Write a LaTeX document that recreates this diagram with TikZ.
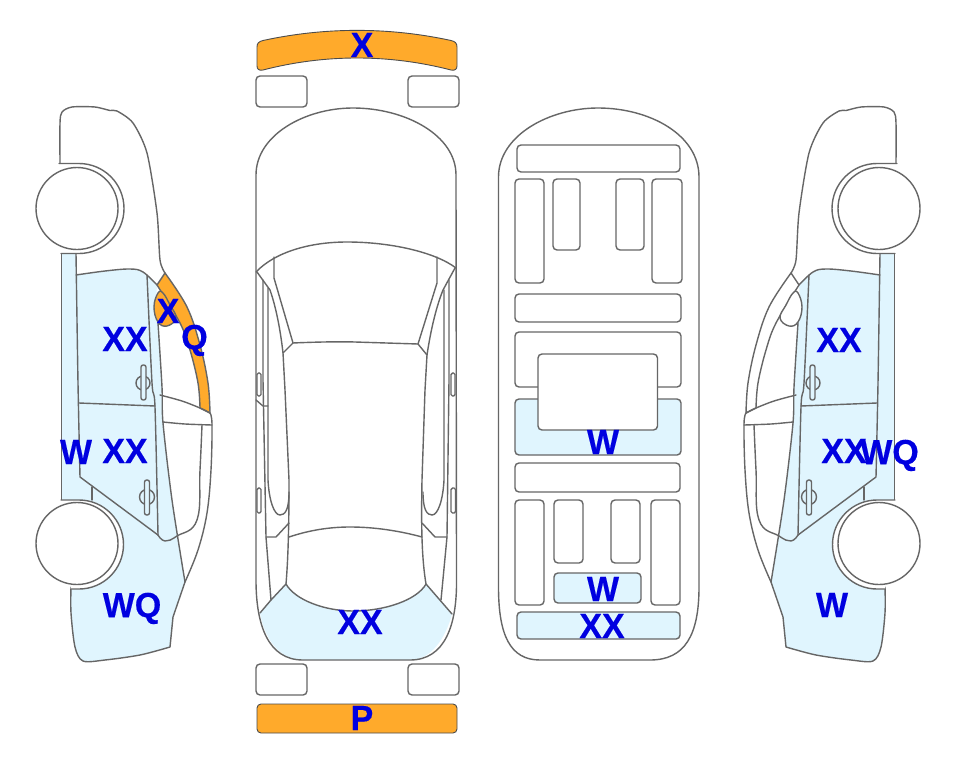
\documentclass[tikz,border=0pt]{standalone}
\usepackage{fontspec}
\setmainfont{Liberation Sans}[FakeStretch=0.97,BoldFeatures={FakeBold=0.4}]
\definecolor{skyf}{HTML}{E0F5FE}
\definecolor{orangef}{HTML}{FFAA2B}
\definecolor{inkl}{HTML}{666666}
\definecolor{labelb}{HTML}{0000E0}
\tikzset{
  ln/.style={draw=inkl,line width=1.4pt,line join=round,line cap=round},
  bx/.style={ln,rounded corners=4pt},
  mark label/.style={text=labelb,font=\fontsize{35}{35}\selectfont\bfseries,inner sep=0pt,text depth=0pt},
}
\newcommand{\sidecar}[2]{%
  % blue panels
  \fill[skyf] (62,253) -- (76,253) -- (76,275)
    -- plot[smooth,tension=.6] coordinates {(76,275) (105,271) (130,269) (143,272) (157,285)}
    -- (156,300) -- plot[smooth,tension=.6] coordinates {(158,323) (162,387) (163,423) (172,500) (185,582)}
    -- (173,617) -- (170,647) -- plot[smooth,tension=.5] coordinates {(170,647) (140,655) (105,660) (83,661) (75,647) (71,613) (71,587)} -- (62,500) -- cycle;
  % roof outline and windscreen base
  \draw[ln] plot[smooth,tension=.45] coordinates {(60,163) (60,123) (62,112) (72,107) (95,107) (110,110.5) (117,111) (133,123) (147,153) (157,213) (160,260) (165,273)};
  % pillar band
  \path[ln,fill=#1] plot[smooth,tension=.6] coordinates {(165,273) (187,307) (200,345) (208,383) (210,413)}
    -- plot[smooth,tension=.6] coordinates {(200,408) (198,383) (190,350) (180,323) (157,285)} -- cycle;
  % mirror
  \path[ln,fill=#2] plot[smooth cycle,tension=.7] coordinates {(158,293) (163,293) (170,305) (176,318) (167,326) (158,322) (154,307)};
  % outer bodywork
  \draw[ln] plot[smooth,tension=.6] coordinates {(210,413) (212,424) (211,470) (207,513) (198,550) (185,582)}
     -- (173,617) -- (170,647) -- plot[smooth,tension=.5] coordinates {(170,647) (140,655) (105,660) (83,661) (75,647) (71,613) (71,587)};
  % panel edges
  \draw[ln] (61.5,253) -- (61.5,501);
  \draw[ln] plot[smooth,tension=.5] coordinates {(76,253) (78,383) (80,477)} -- (158,535);
  \draw[ln] plot[smooth,tension=.6] coordinates {(76,275) (105,271) (130,269) (143,272) (157,285)};
  \draw[ln] plot[smooth,tension=.5] coordinates {(147,275) (152,383) (155,407) (158,535)};
  \draw[ln] plot[smooth,tension=.5] coordinates {(158,323) (162,387) (163,423) (172,500) (185,582)};
  \draw[ln] (79,403) -- (155,406);
  \draw[ln] (92,487) -- (92,500);
  % window lines
  \draw[ln] plot[smooth,tension=.5] coordinates {(160,395) (182,401) (200,408) (210,413)};
  \draw[ln] plot[smooth,tension=.5] coordinates {(163,422) (185,424) (212,425)};
  \draw[ln] plot[smooth,tension=.7] coordinates {(158,535) (165,541) (177,536) (197,520) (200,470) (202,425)};
  % door handles
  \draw[ln] (143,383) circle[radius=7];
  \path[ln,fill=skyf,rounded corners=2.2pt] (141,365) rectangle (146,400);
  \draw[ln] (147,497) circle[radius=7.5];
  \path[ln,fill=skyf,rounded corners=2.2pt] (144.5,480) rectangle (149.5,515);
  % arches and wheels
  \path[ln,fill=white] (59,163.5) -- (79,163.5) arc[start angle=-90,end angle=90,radius=45] -- (61,253.5);
  \path[ln,fill=white] (61,500) -- (79,500) arc[start angle=-90,end angle=90,radius=44.5] -- (71,589);
  \path[ln,fill=white] (77,208.5) circle[radius=41];
  \path[ln,fill=white] (77,543.5) circle[radius=41];
}
\begin{document}
\begin{tikzpicture}[x=1pt,y=-1pt]
\useasboundingbox (0,0) rectangle (963,768);
\fill[white] (0,0) rectangle (963,768);

% left and right side views
\begin{scope}
  \sidecar{orangef}{orangef}
\end{scope}
\begin{scope}[xshift=956pt,xscale=-1]
  \sidecar{white}{white}
\end{scope}

% top view: bumpers and lights
\path[ln,fill=orangef,line width=.9pt,draw=black!70] (257,47) .. controls (257,43) and (259,41.5) .. (263,40.5) .. controls (325,27) and (389,27) .. (451,40.5) .. controls (455,41.5) and (457,43) .. (457,47) -- (457,66) .. controls (457,69) and (455,71) .. (451,70) .. controls (389,54) and (325,54) .. (263,70) .. controls (259,71) and (257,69) .. (257,66) -- cycle;
\path[ln,fill=orangef,line width=.9pt,draw=black!70,rounded corners=4pt] (257,704) rectangle (457,733);
\path[bx] (256,76) rectangle (307,107);
\path[bx] (408,76) rectangle (459,107);
\path[bx] (256,664) rectangle (307,695);
\path[bx] (408,664) rectangle (459,695);

% top view: body
\fill[skyf] (260,613) -- (286,584) .. controls (295,600) and (325,611) .. (353,611) .. controls (385,611) and (417,600) .. (426,584) -- (452,614) .. controls (445,640) and (430,660) .. (410,660) -- (303,660) .. controls (280,660) and (265,640) .. (260,613) -- cycle;
\draw[ln] (256,175) .. controls (256,135) and (305,108) .. (353,108) .. controls (405,108) and (456,135) .. (456,175) -- (456.5,580) .. controls (457,625) and (445,660) .. (410,660) -- (303,660) .. controls (268,660) and (256,625) .. (256,580) -- cycle;
\draw[ln] (256,272) .. controls (275,252) and (310,242) .. (347,242) .. controls (390,242) and (435,252) .. (456,268);
\draw[ln] (274,257) -- (274,278) -- (293,343) -- (283,353);
\draw[ln] (257,272) -- (270,290) .. controls (277,310) and (281,335) .. (283,353) -- (285,390) -- (289,480) .. controls (289,530) and (288,560) .. (286,584);
\draw[ln] (293,343) .. controls (315,342) and (340,341.5) .. (355,342) -- (418,344);
\draw[ln] (437,257) -- (437,283) -- (418,344) -- (427,355);
\draw[ln] (455,268) -- (443,290) .. controls (435,310) and (430,335) .. (427,355) -- (425,390) -- (422,480) .. controls (421,530) and (422,560) .. (426,584);
\draw[ln] (263,280) -- (263,380) -- (266,537) -- (271,600);
\draw[ln] (268,288) -- (268,480) .. controls (269,500) and (274,515) .. (280,515) .. controls (285,515) and (289,510) .. (289,492);
\draw[ln] (449,280) -- (449,380) -- (447,537) -- (441,600);
\draw[ln] (444,290) -- (444,480) .. controls (443,500) and (438,515) .. (432,515) .. controls (427,515) and (423,510) .. (423,492);
\draw[ln] (266,537) -- (276,537) -- (289,523);
\draw[ln] (447,537) -- (435,537) -- (422,523);
\draw[ln] (256,400) -- (263,406) -- (268,406);
\draw[ln] (289,537) .. controls (310,530) and (330,527) .. (350,527) .. controls (375,527) and (400,531) .. (422,537);
\draw[ln] (260,613) -- (271,600) -- (286,584) .. controls (295,600) and (325,611) .. (353,611) .. controls (385,611) and (417,600) .. (426,584) -- (452,614);
\path[ln,fill=white,rounded corners=1.5pt] (257,373) rectangle (261,396);
\path[ln,fill=white,rounded corners=1.5pt] (257,488) rectangle (261,513);
\path[ln,fill=white,rounded corners=1.5pt] (451,373) rectangle (455,396);
\path[ln,fill=white,rounded corners=1.5pt] (451,488) rectangle (455.5,513);

% plan view
\draw[ln] (498.5,177) .. controls (498.5,135) and (550,108) .. (598,108) .. controls (650,108) and (699,135) .. (699,177) -- (699,587) .. controls (699,635) and (685,660) .. (650,660) -- (540,660) .. controls (510,660) and (498.5,635) .. (498.5,587) -- cycle;
\path[bx] (517,145) rectangle (680,172);
\path[bx] (515,179) rectangle (544,283);
\path[bx] (553,179) rectangle (580,250);
\path[bx] (616,179) rectangle (644,250);
\path[bx] (652,179) rectangle (682,283);
\path[bx] (515,294) rectangle (681,322);
\path[bx] (515,332) rectangle (681,387);
\path[bx,fill=skyf] (515,399) rectangle (681,455);
\path[bx,fill=white] (538,354) rectangle (657.5,430);
\path[bx] (515,463) rectangle (680,492);
\path[bx] (515,500) rectangle (544,605);
\path[bx] (554,500) rectangle (583,563);
\path[bx] (611,500) rectangle (640,563);
\path[bx] (651,500) rectangle (680,605);
\path[bx,fill=skyf] (554,573) rectangle (641,603);
\path[bx,fill=skyf] (517,612) rectangle (680,639);

% labels
\node[mark label] (t1) at (362,45) {X};
\node[mark label] (t2) at (125,339) {XX};
\node[mark label] (t3) at (168,311) {X};
\node[mark label] (t4) at (194.5,337) {Q};
\node[mark label] (t5) at (76,452) {W};
\node[mark label] (t6) at (125,451) {XX};
\node[mark label] (t7) at (132,605) {WQ};
\node[mark label] (t8) at (360,622) {XX};
\node[mark label] (t9) at (362,718) {P};
\node[mark label] (t10) at (603,442) {W};
\node[mark label] (t11) at (603,589) {W};
\node[mark label] (t12) at (602,626) {XX};
\node[mark label] (t13) at (839,340) {XX};
\node[mark label] (t14) at (844,451) {XX};
\node[mark label] (t15) at (889.5,452) {WQ};
\node[mark label] (t16) at (832,605) {W};
\end{tikzpicture}
\end{document}
